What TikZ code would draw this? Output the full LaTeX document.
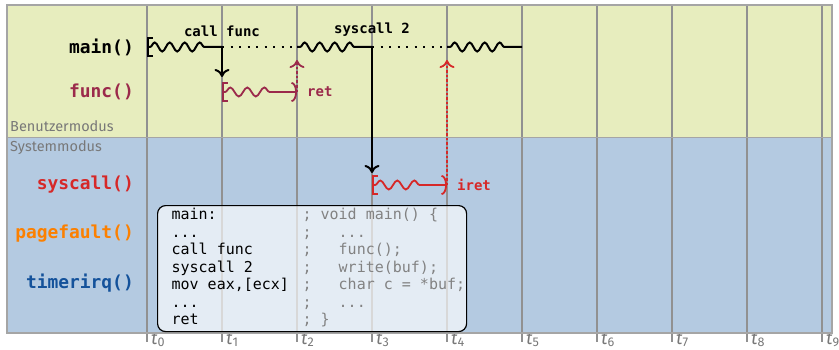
\documentclass[tikz,border=0pt]{standalone}
\usepackage{fontspec}
\usepackage{array}
\setsansfont{Fira Sans}
\setmonofont{DejaVu Sans Mono}
\usetikzlibrary{arrows.meta,decorations.pathmorphing,positioning}

\definecolor{usercol}{RGB}{231,237,190}
\definecolor{syscol}{RGB}{180,202,225}
\definecolor{gridcol}{RGB}{145,145,145}
\definecolor{bordercol}{RGB}{165,165,165}
\definecolor{modecol}{RGB}{120,120,120}
\definecolor{funccol}{RGB}{155,42,75}
\definecolor{syscallcol}{RGB}{214,40,40}
\definecolor{faultcol}{RGB}{252,128,0}
\definecolor{irqcol}{RGB}{20,82,155}
\definecolor{commentcol}{RGB}{130,130,130}

\tikzset{
  rowlabel/.style={anchor=east, font=\fontsize{17.9}{20}\selectfont\ttfamily\bfseries},
  modelabel/.style={anchor=west, text=modecol, font=\fontsize{14.5}{16}\selectfont\sffamily},
  tlabel/.style={anchor=base west, text=modecol, font=\fontsize{18}{20}\selectfont\sffamily\itshape},
  steplabel/.style={font=\fontsize{14}{16}\selectfont\ttfamily\bfseries},
  gridline/.style={gridcol, line width=1.2pt},
  mainline/.style={black, line width=2pt},
  funcline/.style={funccol, line width=1.8pt},
  sysline/.style={syscallcol, line width=1.8pt},
  wave/.style={decorate, decoration={snake, segment length=15pt, amplitude=4.5pt,
    pre length=3pt, post length=13pt}},
  shortwave/.style={decorate, decoration={snake, segment length=17pt, amplitude=4.5pt,
    pre length=3pt, post length=20pt}},
  idle/.style={dash pattern=on 2pt off 6.5pt},
  back/.style={dash pattern=on 2.5pt off 2pt},
  begin/.style={{Bracket[width=20pt,length=5pt]}-},
  callarrow/.style={-{Computer Modern Rightarrow[width=15pt,length=8pt]}},
  retarrow/.style={{Bracket[width=20pt,length=5pt]}-{Arc Barb[width=20pt,length=5.5pt]}},
  codebox/.style={draw, rounded corners=8pt, fill=white, fill opacity=0.65, text opacity=1,
    line width=1.2pt, inner xsep=14pt, inner ysep=1.75pt, text width=281pt,
    font=\fontsize{15}{17.5}\selectfont\ttfamily}
}

\begin{document}
\begin{tikzpicture}[x=1pt, y=1pt, every node/.style={inner sep=0pt}]
\useasboundingbox (0,0) rectangle (839,349);
% Benutzer- und Systemmodus
\fill[usercol] (7,212) rectangle (832,344);
\fill[syscol] (7,16) rectangle (832,212);
% Zeitachse
\foreach \i in {0,...,9} {
  \coordinate (t\i) at (147+75*\i,344);
  \draw[gridline] (t\i) -- ++(0,-337);
  \node[tlabel] (l\i) at (151+75*\i,5) {t\textsubscript{\upshape\i}};
}
\draw[bordercol, line width=1.5pt] (7,16) rectangle (832,344);
\draw[bordercol, line width=1pt] (7,212) -- (832,212);
\node[modelabel] (user) at (10,223) {Benutzermodus};
\node[modelabel] (kernel) at (10,201) {Systemmodus};
% Funktionen
\node[rowlabel] (main) at (134,302) {main()};
\node[rowlabel, text=funccol] (func) at (134,257) {func()};
\node[rowlabel, text=syscallcol] (syscall) at (134,164) {syscall()};
\node[rowlabel, text=faultcol] (pagefault) at (134,115) {pagefault()};
\node[rowlabel, text=irqcol] (timerirq) at (134,66) {timerirq()};
% Ablauf main()
\draw[mainline, wave, begin] (t0 |- main) -- (t1 |- main);
\draw[mainline, idle] (t1 |- main) -- (t2 |- main);
\draw[mainline, wave] (t2 |- main) -- (t3 |- main);
\draw[mainline, idle] (t3 |- main) -- (t4 |- main);
\draw[mainline, wave] (t4 |- main) -- (t5 |- main);
% call func / ret
\coordinate (call) at (t1 |- main);
\coordinate (ret) at (t2 |- func);
\node[steplabel, anchor=south, above=10pt of call] (calltext) {call func};
\draw[mainline, callarrow, shorten >=15pt] (call) -- (t1 |- func);
\draw[funcline, shortwave, retarrow] (t1 |- func) -- (ret);
\draw[funcline, back, callarrow, shorten >=13pt] (ret) -- (t2 |- main);
\node[steplabel, text=funccol, right=10pt of ret] (rettext) {ret};
% syscall 2 / iret
\coordinate (trap) at (t3 |- main);
\coordinate (iret) at (t4 |- syscall);
\node[steplabel, above=10pt of trap] (traptext) {syscall 2};
\draw[mainline, callarrow, shorten >=12pt] (trap) -- (t3 |- syscall);
\draw[sysline, shortwave, retarrow] (t3 |- syscall) -- (iret);
\draw[sysline, back, callarrow, shorten >=13pt] (iret) -- (t4 |- main);
\node[steplabel, text=syscallcol, right=10pt of iret] (irettext) {iret};
% Quelltext
\node[codebox, anchor=north west] (code) at (157,144) {%
  \spaceskip=0.602em\relax
  \begin{tabular}{@{}p{131pt}@{}>{\color{commentcol}}l@{}}
  main: & ; void main() \{ \\
  ... & ;\ \ \ ... \\
  call func & ;\ \ \ func(); \\
  syscall 2 & ;\ \ \ write(buf); \\
  mov eax,[ecx] & ;\ \ \ char c = *buf; \\
  ... & ;\ \ \ ... \\
  ret & ; \}
  \end{tabular}};
\end{tikzpicture}
\end{document}
